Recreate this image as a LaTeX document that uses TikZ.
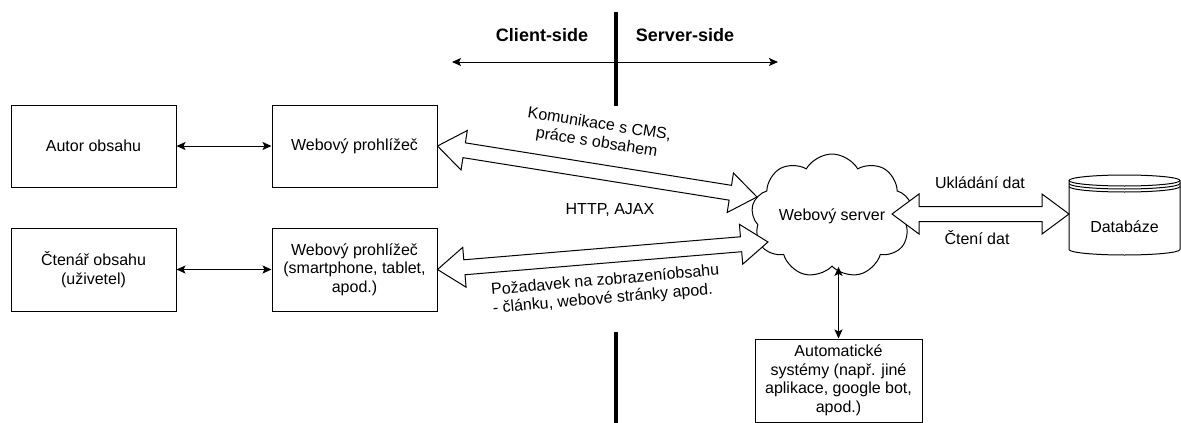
\documentclass[tikz,border=0pt]{standalone}
\usepackage{fontspec}
\setmainfont{Liberation Sans}
\usetikzlibrary{arrows.meta,calc,shapes.symbols}

\tikzset{
  box/.style={draw, line width=1pt, minimum width=165pt, minimum height=82pt, align=center, inner sep=2pt},
  flex/.style={draw, line width=1pt, fill=white, line join=miter},
  link/.style={line width=1pt, {Stealth[length=9pt,width=8pt,inset=2pt]}-{Stealth[length=9pt,width=8pt,inset=2pt]}},
  lbl/.style={align=center, inner sep=0pt},
  side/.style={font=\fontsize{18}{21}\selectfont\bfseries, inner sep=0pt},
}

% hollow double arrow between two points
\newcommand{\flexarrow}[2]{%
  \path let \p1=(#1), \p2=(#2),
    \n1={atan2(\y2-\y1,\x2-\x1)}, \n2={veclen(\x2-\x1,\y2-\y1)} in
    \pgfextra{\xdef\flexang{\n1}\xdef\flexlen{\n2}};
  \begin{scope}[shift={(#1)}, rotate=\flexang]
    \pgfmathsetmacro\flexL{\flexlen}
    \pgfmathsetmacro\flexM{\flexlen-27}
    \draw[flex] (0pt,0pt) -- (27pt,20pt) -- (27pt,7.5pt) -- (\flexM pt,7.5pt) -- (\flexM pt,20pt)
      -- (\flexL pt,0pt) -- (\flexM pt,-20pt) -- (\flexM pt,-7.5pt) -- (27pt,-7.5pt) -- (27pt,-20pt) -- cycle;
  \end{scope}
}

\begin{document}
\begin{tikzpicture}[x=1pt, y=-1pt, font=\fontsize{16}{18.5}\selectfont]
  \useasboundingbox (0,0) rectangle (1181,423);

  % client / server divide
  \node[side] (client) at (542,35) {Client-side};
  \node[side] (server) at (685,35) {Server-side};
  \coordinate (cleft) at (452,62);
  \coordinate (sright) at (778,62);
  \draw[line width=1pt, {Stealth[length=9pt,width=8pt,inset=2pt]}-{Stealth[length=9pt,width=8pt,inset=2pt]}] (cleft) -- (sright);
  \draw[line width=4pt] (616,12) -- (616,106);
  \draw[line width=4pt] (616,332) -- (616,423);

  % boxes
  \node[box] (autor) at (93.5,146) {Autor obsahu};
  \node[box] (web1) at (354.5,146) {Webový prohlížeč};
  \node[box, minimum height=83pt] (ctenar) at (93.5,269.5) {Čtenář obsahu\\(uživetel)};
  \node[box, minimum height=83pt] (web2) at (354.5,269.5) {Webový prohlížeč\\(smartphone, tablet,\\apod.)};
  \node[box, minimum width=167pt, minimum height=83pt] (auto) at (838.5,380.5) {Automatické\\systémy (např. jiné\\aplikace, google bot,\\apod.)};

  \node[cloud, draw, line width=1pt, cloud puffs=9, cloud puff arc=120, aspect=1.5,
    minimum width=150pt, minimum height=98pt, inner sep=0pt] (srv) at (832,216) {Webový server};

  % database
  \draw[line width=1pt] (1069,180.5) -- (1069,249.5) arc[start angle=180, end angle=0, x radius=55.5, y radius=5.5] -- (1180,180.5);
  \draw[line width=1pt] (1124.5,180.5) ellipse[x radius=55.5, y radius=5.5];
  \draw[line width=1pt] (1069,183.5) arc[start angle=180, end angle=0, x radius=55.5, y radius=5.5];
  \draw[line width=1pt] (1069,186.5) arc[start angle=180, end angle=0, x radius=55.5, y radius=5.5];
  \node (db) at (1124.5,227) {Databáze};

  % connectors
  \draw[link] (autor) -- (web1);
  \draw[link] (ctenar) -- (web2);
  \draw[link] (auto.north |- srv.south) -- (auto.north);

  \coordinate (srvin1) at (757,197);
  \coordinate (srvin2) at (768,242);
  \coordinate (srvout) at (892,214);
  \coordinate (dbin) at (1069,214);
  \flexarrow{web1.east}{srvin1}
  \flexarrow{web2.east}{srvin2}
  \flexarrow{srvout}{dbin}

  % labels
  \node[lbl, rotate=-9] (komlbl) at (598,134) {Komunikace s CMS,\\práce s obsahem};
  \node[lbl] (http) at (610,210) {HTTP, AJAX};
  \node[lbl, align=left, rotate=5] (pozlbl) at (606,290) {Požadavek na zobrazeníobsahu\\- článku, webové stránky apod.};
  \node[lbl] (uklad) at (980,183) {Ukládání dat};
  \node[lbl] (cteni) at (977,238) {Čtení dat};
\end{tikzpicture}
\end{document}
